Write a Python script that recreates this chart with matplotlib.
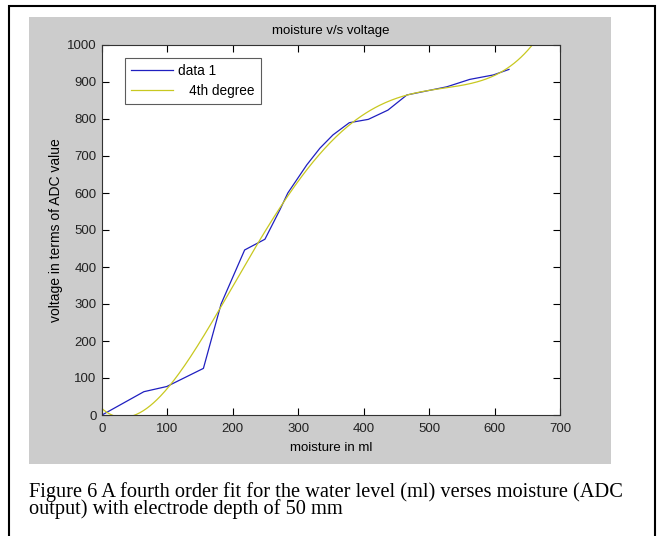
import numpy as np
import matplotlib
matplotlib.use("Agg")
import matplotlib.pyplot as plt
from matplotlib.patches import Rectangle

# %% data
moisture_ml = [0, 64, 99, 155, 182, 218, 249, 272, 284, 313, 333, 353, 378,
               407, 437, 466, 491, 527, 562, 598, 622]
adc_value = [0, 63, 77, 126, 300, 446, 475, 555, 600, 676, 721, 757, 790,
             799, 824, 865, 874, 887, 907, 919, 934]

x_ticks = [0, 100, 200, 300, 400, 500, 600, 700]
y_ticks = [0, 100, 200, 300, 400, 500, 600, 700, 800, 900, 1000]

caption = ("Figure 6 A fourth order fit for the water level (ml) verses moisture (ADC\n"
           "output) with electrode depth of 50 mm")

# %% 4th degree fit (as in matlab basic fitting)
coef = np.polyfit(moisture_ml, adc_value, 4)
x_fit = np.linspace(0, 700, 400)
y_fit = np.polyval(coef, x_fit)

W, H = 660, 536
fig = plt.figure(figsize=(W / 100, H / 100), dpi=100)
fig.patch.set_facecolor("white")

# page frame and grey matlab figure background
fig.patches.append(Rectangle((9 / W, -0.02), 646 / W, 1 - 6 / H + 0.02,
                             transform=fig.transFigure, fill=False,
                             edgecolor="black", linewidth=1.5, zorder=-2))
fig.patches.append(Rectangle((29 / W, 1 - 464 / H), 582 / W, 447 / H,
                             transform=fig.transFigure, facecolor="#cccccc",
                             edgecolor="none", zorder=-1))

ax = fig.add_axes([102 / W, 1 - 415 / H, 458 / W, 370 / H])
ax.set_zorder(1)
ax.set_facecolor("white")

ax.plot(moisture_ml, adc_value, color="#1f1fc0", linewidth=0.9, label="data 1")
ax.plot(x_fit, y_fit, color="#c8c820", linewidth=0.9, label="   4th degree")

ax.set_xlim(0, 700)
ax.set_ylim(0, 1000)
ax.set_xticks(x_ticks)
ax.set_yticks(y_ticks)
ax.tick_params(direction="in", length=5, width=0.8, top=True, right=True,
               labelsize=9.5, labelcolor="#222222")
ax.tick_params(axis="x", pad=6)
ax.tick_params(axis="y", pad=4)
for s in ax.spines.values():
    s.set_linewidth(0.8)
    s.set_color("#333333")

for lab in ax.get_xticklabels() + ax.get_yticklabels():
    lab.set_family("Liberation Sans")

ax.set_title("moisture v/s voltage", fontsize=9.5, family="Liberation Sans", pad=8)
ax.set_xlabel("moisture in ml", fontsize=9.5, family="Liberation Sans", labelpad=5)
ax.set_ylabel("voltage in terms of ADC value", fontsize=10,
              family="Liberation Sans", labelpad=3)

leg = ax.legend(loc="upper left", bbox_to_anchor=(0.05, 0.965),
                frameon=True, fancybox=False, borderpad=0.45, handlelength=3.1,
                handletextpad=0.37, labelspacing=0.45, borderaxespad=0,
                prop={"family": "Liberation Sans", "size": 9.8})
leg.get_frame().set_edgecolor("#333333")
leg.get_frame().set_linewidth(0.8)

fig.text(29 / W, 1 - 482 / H, caption, fontsize=14.7, family="Liberation Serif",
         va="top", linespacing=0.78)

fig.savefig("out.png", dpi=100)
